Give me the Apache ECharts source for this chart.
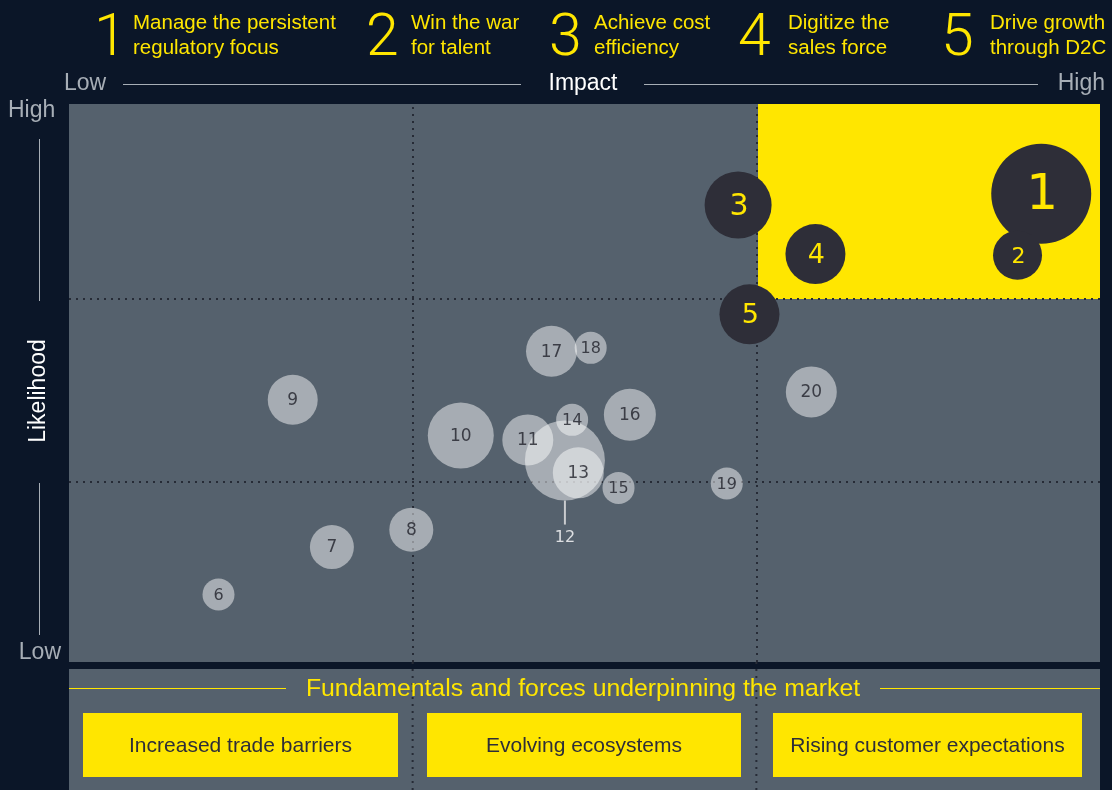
<!DOCTYPE html>
<html><head><meta charset="utf-8">
<script src="https://cdn.jsdelivr.net/npm/echarts@6/dist/echarts.min.js"></script>
<style>html,body{margin:0;padding:0;background:#0b1628;}#c{width:1112px;height:790px;}</style>
</head><body><div id="c"></div>
<script>
// ---- data ----
const themeNums  = ['1', '2', '3', '4', '5'];
const themeLine1 = ['Manage the persistent', 'Win the war', 'Achieve cost', 'Digitize the', 'Drive growth'];
const themeLine2 = ['regulatory focus', 'for talent', 'efficiency', 'sales force', 'through D2C'];

const bubbleIds  = ['1','2','3','4','5','6','7','8','9','10','11','12','13','14','15','16','17','18','19','20'];
const impact     = [94.3, 92.0, 64.9, 72.4, 66.0, 14.5, 25.5, 33.2, 21.7, 38.0, 44.5, 48.1, 49.4, 48.8, 53.3, 54.4, 46.8, 50.6, 63.8, 72.0];
const likelihood = [83.9, 72.9, 81.9, 73.1, 62.3, 12.1, 20.6, 23.7, 47.0, 40.6, 39.8, 36.1, 33.9, 43.4, 31.2, 44.3, 55.7, 56.3, 32.0, 48.4];
const bubbleSize = [100, 49, 67, 60, 60, 32, 44, 44, 50, 66, 51, 80, 51, 32, 32, 52, 51, 32, 32, 51];
const keyThemes  = ['1','2','3','4','5'];

const axisXLabels = ['Low', 'Impact', 'High'];
const axisYLabels = ['High', 'Likelihood', 'Low'];
const splitsX = [33.33, 66.67];
const splitsY = [32.26, 65.05];
const hotZone = [[66.83, 65.05], [100, 100]];

const forcesTitle = 'Fundamentals and forces underpinning the market';
const forces = ['Increased trade barriers', 'Evolving ecosystems', 'Rising customer expectations'];

// ---- styles / layout ----
const NAVY = '#0b1628', GRAY = '#55616d', YEL = '#ffe600', DARK = '#2e2e38';
const FONT = '"Liberation Sans", Arial, sans-serif';
const LFONT = '"Roboto Light", "Lato Light", "Open Sans Light", "Noto Sans Light", Roboto, sans-serif';
const BFONT = '"DejaVu Sans", sans-serif';
const digitX = [94, 366, 549, 738, 941];
const textX = [133, 411, 594, 788, 990];
const DOT = { type: [2, 5], color: '#262b36', width: 2 };

const chart = echarts.init(document.getElementById('c'), null, { renderer: 'canvas' });

const bubbleData = bubbleIds.map((id, i) => {
  const dark = keyThemes.includes(id);
  const s = bubbleSize[i];
  const item = {
    name: id,
    value: [impact[i], likelihood[i], s],
    itemStyle: dark ? { color: DARK, opacity: 1 } : { color: 'rgba(255,255,255,0.6)' },
    label: dark
      ? { color: YEL, fontSize: Math.round(s * (s >= 90 ? 0.5 : 0.45)), fontFamily: BFONT, offset: [1, 2] }
      : { color: '#20222b', fontSize: s >= 44 ? 17 : 16, fontFamily: BFONT, offset: [0, 1] }
  };
  if (id === '12') {
    item.label = {
      position: 'bottom', distance: 0,
      formatter: '{ln|}\n{t|12}',
      rich: {
        ln: { width: 2, height: 24, backgroundColor: '#e6e6e6' },
        t: { color: '#ffffff', fontSize: 16, fontFamily: BFONT, padding: [5, 0, 0, 0] }
      }
    };
  }
  return item;
});

function staticGraphics(vx) {
  const g = [];
  themeNums.forEach((n, i) => {
    g.push({ type: 'text', x: digitX[i], y: 38, style: { text: n, fill: YEL, font: '300 59px ' + LFONT, textVerticalAlign: 'middle' } });
    g.push({ type: 'text', x: textX[i], y: 23, style: { text: themeLine1[i], fill: YEL, font: '20.5px ' + FONT, textVerticalAlign: 'middle' } });
    g.push({ type: 'text', x: textX[i], y: 48, style: { text: themeLine2[i], fill: YEL, font: '20.5px ' + FONT, textVerticalAlign: 'middle' } });
  });
  g.push({ type: 'text', x: 64, y: 84, style: { text: axisXLabels[0], fill: '#a7aeb6', font: '23px ' + FONT, textVerticalAlign: 'middle' } });
  g.push({ type: 'line', shape: { x1: 123, y1: 84.5, x2: 521, y2: 84.5 }, style: { stroke: '#a7aeb6', lineWidth: 1 } });
  g.push({ type: 'text', x: 583, y: 84, style: { text: axisXLabels[1], fill: '#ffffff', font: '23px ' + FONT, textAlign: 'center', textVerticalAlign: 'middle' } });
  g.push({ type: 'line', shape: { x1: 644, y1: 84.5, x2: 1038, y2: 84.5 }, style: { stroke: '#a7aeb6', lineWidth: 1 } });
  g.push({ type: 'text', x: 1105, y: 84, style: { text: axisXLabels[2], fill: '#a7aeb6', font: '23px ' + FONT, textAlign: 'right', textVerticalAlign: 'middle' } });
  g.push({ type: 'text', x: 8, y: 111, style: { text: axisYLabels[0], fill: '#a7aeb6', font: '23px ' + FONT, textVerticalAlign: 'middle' } });
  g.push({ type: 'line', shape: { x1: 39.5, y1: 139, x2: 39.5, y2: 301 }, style: { stroke: '#a7aeb6', lineWidth: 1 } });
  g.push({ type: 'text', x: 39, y: 391, rotation: Math.PI / 2, style: { text: axisYLabels[1], fill: '#ffffff', font: '23px ' + FONT, textAlign: 'center', textVerticalAlign: 'middle' } });
  g.push({ type: 'line', shape: { x1: 39.5, y1: 483, x2: 39.5, y2: 635 }, style: { stroke: '#a7aeb6', lineWidth: 1 } });
  g.push({ type: 'text', x: 61, y: 653, style: { text: axisYLabels[2], fill: '#a7aeb6', font: '23px ' + FONT, textAlign: 'right', textVerticalAlign: 'middle' } });
  g.push({ type: 'rect', shape: { x: 69, y: 669, width: 1031, height: 121 }, style: { fill: GRAY } });
  (vx || []).forEach(x => {
    g.push({ type: 'line', shape: { x1: x, y1: 662, x2: x, y2: 790 }, style: { stroke: DOT.color, lineWidth: 2, lineDash: [2, 5] } });
  });
  g.push({ type: 'line', shape: { x1: 69, y1: 688.5, x2: 286, y2: 688.5 }, style: { stroke: YEL, lineWidth: 1 } });
  g.push({ type: 'line', shape: { x1: 880, y1: 688.5, x2: 1100, y2: 688.5 }, style: { stroke: YEL, lineWidth: 1 } });
  g.push({ type: 'text', x: 583, y: 689, style: { text: forcesTitle, fill: YEL, font: '24.8px ' + FONT, textAlign: 'center', textVerticalAlign: 'middle' } });
  const boxes = [[83, 315], [427, 314], [773, 309]];
  forces.forEach((f, i) => {
    g.push({ type: 'rect', shape: { x: boxes[i][0], y: 713, width: boxes[i][1], height: 64 }, style: { fill: YEL } });
    g.push({ type: 'text', x: boxes[i][0] + boxes[i][1] / 2, y: 746, style: { text: f, fill: '#2e2e38', font: '21px ' + FONT, textAlign: 'center', textVerticalAlign: 'middle' } });
  });
  return g;
}

const option = {
  backgroundColor: NAVY,
  animation: false,
  grid: { left: 69, top: 104, width: 1031, height: 558, show: true, backgroundColor: GRAY, borderWidth: 0 },
  xAxis: { type: 'value', min: 0, max: 100, show: false },
  yAxis: { type: 'value', min: 0, max: 100, show: false },
  series: [
    {
      type: 'scatter', data: [], silent: true, z: 1,
      markArea: { silent: true, z: 1, itemStyle: { color: YEL, opacity: 1 },
        data: [[{ xAxis: hotZone[0][0], yAxis: hotZone[0][1] }, { xAxis: hotZone[1][0], yAxis: hotZone[1][1] }]] },
      markLine: { silent: true, z: 2, symbol: 'none', label: { show: false }, lineStyle: DOT,
        data: splitsX.map(v => ({ xAxis: v })).concat(splitsY.map(v => ({ yAxis: v }))) }
    },
    {
      type: 'scatter', z: 10,
      symbolSize: v => v[2],
      data: bubbleData,
      label: { show: true, position: 'inside', formatter: p => p.name }
    }
  ],
  graphic: { elements: staticGraphics([]) }
};
chart.setOption(option);
const vx = splitsX.map(v => chart.convertToPixel({ xAxisIndex: 0 }, v));
chart.setOption({ graphic: { elements: staticGraphics(vx) } }, { replaceMerge: ['graphic'] });
</script></body></html>
